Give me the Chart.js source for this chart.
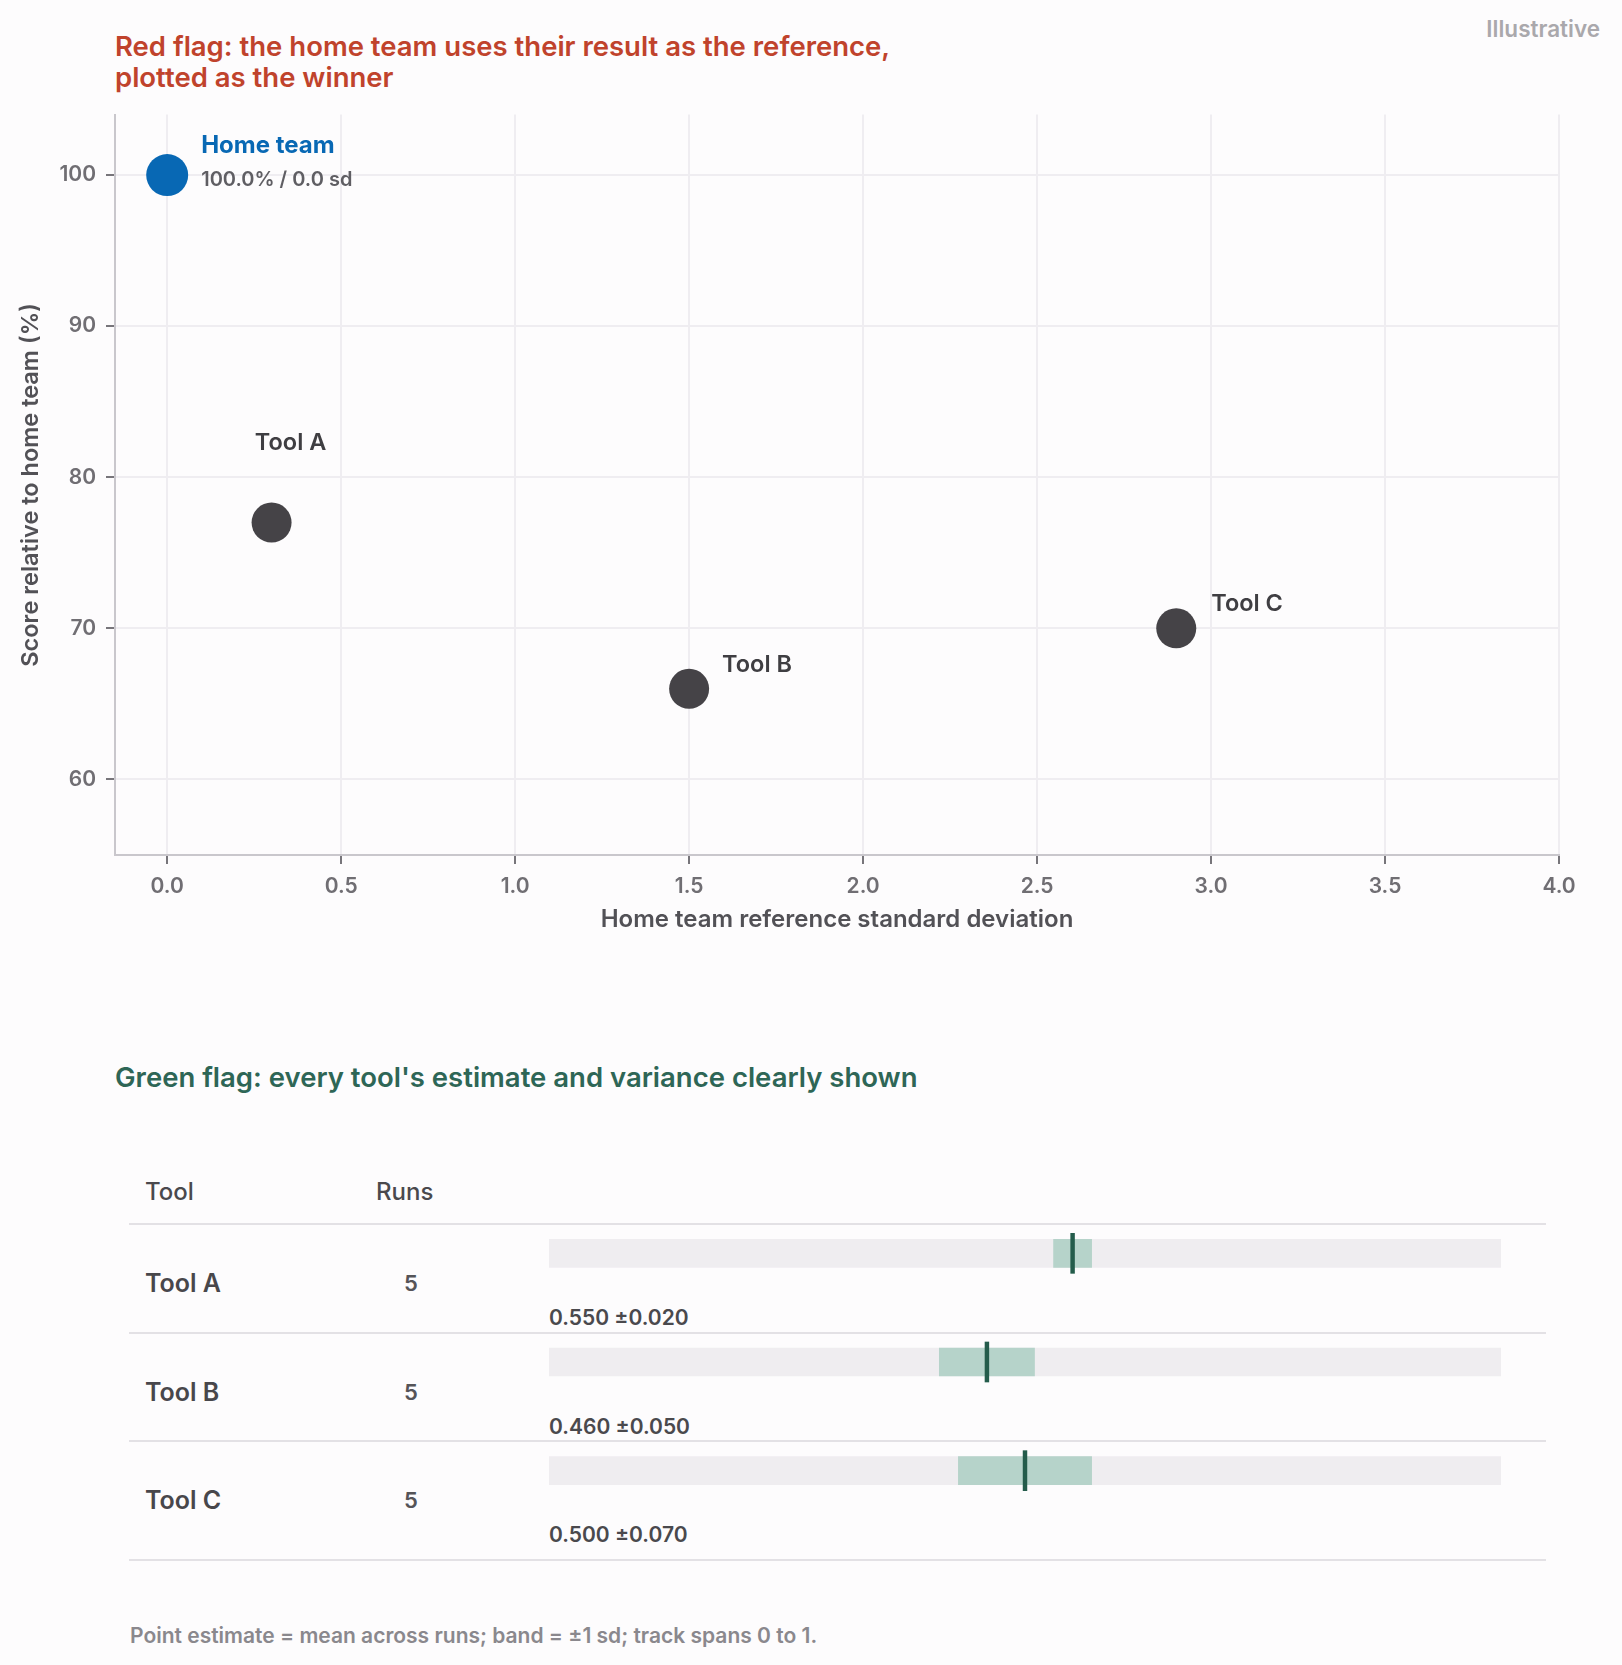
<!DOCTYPE html>
<html lang="en">
<head>
<meta charset="utf-8">
<title>Home team reference vs tool variance</title>
<script src="https://cdn.jsdelivr.net/npm/chart.js@4.4.1/dist/chart.umd.min.js"></script>
<style>
  html, body { margin: 0; padding: 0; background: #fdfcfd; }
  body { width: 1622px; height: 1665px; position: relative; font-family: Inter, "Noto Sans", sans-serif; overflow: hidden; }
  .abs { position: absolute; white-space: nowrap; line-height: 1; }
  .mid { transform: translateY(-50%); }
  #illustrative { right: 22px; top: 29px; font-size: 22.5px; font-weight: 600; color: #aaa8ac; }
  #redTitle { left: 115px; top: 31px; font-size: 27.5px; font-weight: 600; color: #c0432c; line-height: 30.5px; white-space: normal; width: 1000px; }
  #greenTitle { left: 115px; top: 1078px; font-size: 27.5px; font-weight: 600; color: #2e6656; }
  #scatterBox { position: absolute; left: 0; top: 92px; width: 1600px; height: 868px; }
  #trackBox { position: absolute; left: 549px; top: 1199px; width: 952px; height: 326px; }
  .rule { position: absolute; left: 129px; width: 1417px; height: 2px; background: #e3e1e5; }
  .th { font-size: 24px; font-weight: 500; color: #4a494d; }
  .tool { left: 145px; font-size: 25px; font-weight: 600; color: #48474b; }
  .runs { left: 411px; font-size: 22px; font-weight: 600; color: #555458; transform: translate(-50%, -50%); }
  .val { left: 549px; font-size: 21px; font-weight: 600; color: #4a494d; }
  #footer { left: 130px; top: 1635px; font-size: 21px; font-weight: 600; color: #8a888d; }
</style>
</head>
<body>
  <div id="illustrative" class="abs mid">Illustrative</div>
  <div id="redTitle" class="abs">Red flag: the home team uses their result as the reference,<br>plotted as the winner</div>

  <div id="scatterBox"><canvas id="scatterChart"></canvas></div>

  <div id="greenTitle" class="abs mid">Green flag: every tool's estimate and variance clearly shown</div>
  <div class="abs mid th" style="left:145px; top:1192px;">Tool</div>
  <div class="abs mid th" style="left:376px; top:1192px;">Runs</div>
  <div class="rule" style="top:1223px;"></div>
  <div id="rows"></div>

  <div id="trackBox"><canvas id="trackChart"></canvas></div>

  <div id="footer" class="abs mid">Point estimate = mean across runs; band = ±1 sd; track spans 0 to 1.</div>

<script>
// Dados do gráfico de cima (scatter)
const homeLabel = "Home team";
const homeSd = [0.0];
const homeScore = [100.0];
const toolNames = ["Tool A", "Tool B", "Tool C"];
const toolSd = [0.3, 1.5, 2.9];
const toolScore = [77, 66, 70];
const xTicks = [0, 0.5, 1, 1.5, 2, 2.5, 3, 3.5, 4];
const yTicks = [60, 70, 80, 90, 100];

// Dados da tabela de baixo
const toolRuns = [5, 5, 5];
const toolMean = [0.55, 0.46, 0.5];
const toolSpread = [0.02, 0.05, 0.07];

const COLORS = {
  home: "#0868b4",
  tool: "#454347",
  toolLabel: "#3f3e42",
  grid: "#efedf1",
  border: "#c9c7cc",
  tick: "#77757a",
  tickText: "#706e73",
  axisTitle: "#525156",
  track: "#efedf0",
  band: "#b6d3ca",
  marker: "#245c4b",
  sub: "#5f5e63",
};

const FONT = "Inter";

// Posição dos rótulos relativa ao ponto (estilo, não dados)
const toolLabelStyle = [
  { dx: 19, dy: -80, align: "center" },
  { dx: 33, dy: -24, align: "left" },
  { dx: 35, dy: -24, align: "left" },
];

const pointLabels = {
  id: "pointLabels",
  afterDatasetsDraw(chart) {
    const ctx = chart.ctx;
    ctx.save();
    ctx.textBaseline = "middle";

    const home = chart.getDatasetMeta(0).data[0];
    ctx.textAlign = "left";
    ctx.fillStyle = COLORS.home;
    ctx.font = `700 24px ${FONT}`;
    ctx.fillText(homeLabel, home.x + 34, home.y - 29);
    ctx.fillStyle = COLORS.sub;
    ctx.font = `600 20px ${FONT}`;
    ctx.fillText(
      `${homeScore[0].toFixed(1)}% / ${homeSd[0].toFixed(1)} sd`,
      home.x + 34,
      home.y + 5
    );

    ctx.fillStyle = COLORS.toolLabel;
    ctx.font = `600 23.5px ${FONT}`;
    chart.getDatasetMeta(1).data.forEach((pt, i) => {
      const s = toolLabelStyle[i];
      ctx.textAlign = s.align;
      ctx.fillText(toolNames[i], pt.x + s.dx, pt.y + s.dy);
    });
    ctx.restore();
  },
};

function criarGraficoScatter() {
  const ctx = document.getElementById("scatterChart").getContext("2d");
  new Chart(ctx, {
    type: "scatter",
    data: {
      datasets: [
        {
          label: homeLabel,
          data: homeSd.map((x, i) => ({ x, y: homeScore[i] })),
          backgroundColor: COLORS.home,
          borderWidth: 0,
          pointRadius: 21,
        },
        {
          label: "Tools",
          data: toolSd.map((x, i) => ({ x, y: toolScore[i] })),
          backgroundColor: COLORS.tool,
          borderWidth: 0,
          pointRadius: 20,
        },
      ],
    },
    options: {
      responsive: true,
      maintainAspectRatio: false,
      animation: false,
      events: [],
      layout: { padding: { top: 9, right: 41, left: 0, bottom: 0 } },
      plugins: { legend: { display: false }, tooltip: { enabled: false } },
      scales: {
        x: {
          type: "linear",
          min: -0.15,
          max: 4,
          afterBuildTicks: (scale) => {
            scale.ticks = xTicks.map((v) => ({ value: v }));
          },
          afterFit: (scale) => {
            scale.height = 105;
          },
          grid: {
            color: COLORS.grid,
            lineWidth: 2,
            tickColor: COLORS.tick,
            tickWidth: 2,
            tickLength: 9,
          },
          border: { color: COLORS.border, width: 2 },
          ticks: {
            padding: 10,
            color: COLORS.tickText,
            font: { family: FONT, size: 21, weight: "600" },
            callback: (v) => Number(v).toFixed(1),
          },
          title: {
            display: true,
            text: "Home team reference standard deviation",
            color: COLORS.axisTitle,
            font: { family: FONT, size: 24, weight: "600" },
            padding: { top: 0, bottom: 26 },
          },
        },
        y: {
          type: "linear",
          min: 55,
          max: 104,
          afterBuildTicks: (scale) => {
            scale.ticks = yTicks.map((v) => ({ value: v }));
          },
          afterFit: (scale) => {
            scale.width = 115;
          },
          grid: {
            color: COLORS.grid,
            lineWidth: 2,
            tickColor: COLORS.tick,
            tickWidth: 2,
            tickLength: 9,
          },
          border: { color: COLORS.border, width: 2 },
          ticks: {
            padding: 10,
            color: COLORS.tickText,
            font: { family: FONT, size: 21, weight: "600" },
          },
          title: {
            display: true,
            text: "Score relative to home team (%)",
            color: COLORS.axisTitle,
            font: { family: FONT, size: 23.5, weight: "600" },
            padding: { top: 17, bottom: 0 },
          },
        },
      },
    },
    plugins: [pointLabels],
  });
}

function criarTabela() {
  const rows = document.getElementById("rows");
  const rowTop = 1224;
  const rowHeight = 108.5;
  let html = "";
  toolNames.forEach((name, i) => {
    const top = rowTop + i * rowHeight;
    html += `
      <div class="abs mid tool" style="top:${top + 59}px">${name}</div>
      <div class="abs runs" style="top:${top + 59}px">${toolRuns[i]}</div>
      <div class="abs mid val" style="top:${top + 93}px">${toolMean[i].toFixed(3)} ±${toolSpread[i].toFixed(3)}</div>
    `;
  });
  html += `<div class="rule" style="top:1332px"></div>`;
  html += `<div class="rule" style="top:1440px"></div>`;
  html += `<div class="rule" style="top:1559px"></div>`;
  rows.innerHTML = html;
}

function criarGraficoTracks() {
  const ctx = document.getElementById("trackChart").getContext("2d");
  const markerHalf = 0.002;
  new Chart(ctx, {
    type: "bar",
    data: {
      labels: toolNames,
      datasets: [
        {
          label: "marker",
          data: toolMean.map((m) => [m - markerHalf, m + markerHalf]),
          backgroundColor: COLORS.marker,
          barThickness: 40,
          order: 1,
        },
        {
          label: "band",
          data: toolMean.map((m, i) => [m - toolSpread[i], m + toolSpread[i]]),
          backgroundColor: COLORS.band,
          barThickness: 28,
          order: 2,
        },
        {
          label: "track",
          data: toolNames.map(() => [0, 1]),
          backgroundColor: COLORS.track,
          barThickness: 28,
          order: 3,
        },
      ],
    },
    options: {
      indexAxis: "y",
      responsive: true,
      maintainAspectRatio: false,
      animation: false,
      events: [],
      layout: { padding: 0 },
      datasets: { bar: { grouped: false, borderWidth: 0, borderSkipped: false } },
      plugins: { legend: { display: false }, tooltip: { enabled: false } },
      scales: {
        x: { type: "linear", min: 0, max: 1, display: false },
        y: { type: "category", display: false, offset: true },
      },
    },
  });
}

document.addEventListener("DOMContentLoaded", function () {
  criarTabela();
  criarGraficoScatter();
  criarGraficoTracks();
});
</script>
</body>
</html>
